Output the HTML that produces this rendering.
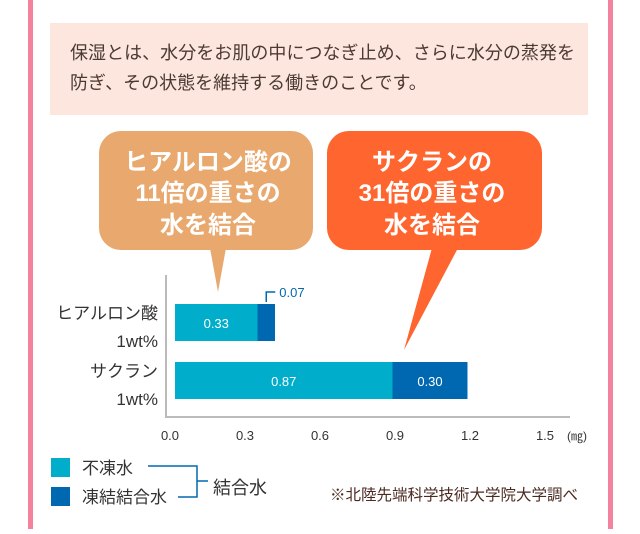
<!DOCTYPE html>
<html><head><meta charset="utf-8">
<style>
body{margin:0;width:640px;height:529px;background:#fff;overflow:hidden;font-family:"Liberation Sans","Noto Sans CJK JP",sans-serif;}
</style></head>
<body>
<svg width="640" height="529" viewBox="0 0 640 529" xmlns="http://www.w3.org/2000/svg" font-family="Liberation Sans, Noto Sans CJK JP, sans-serif">
<rect x="28" y="0" width="5" height="529" fill="#F4829E"/>
<rect x="608" y="0" width="5" height="529" fill="#F4829E"/>
<rect x="50" y="23" width="538" height="92" fill="#FDE6DE"/>
<text x="70" y="59" font-size="18" fill="#4a3a34" textLength="505">保湿とは、水分をお肌の中につなぎ止め、さらに水分の蒸発を</text>
<text x="70" y="89" font-size="18" fill="#4a3a34">防ぎ、その状態を維持する働きのことです。</text>

<g>
<rect x="99" y="131" width="214" height="119" rx="22" fill="#E8A86E"/>
<polygon points="210,248 226,248 218,292" fill="#E8A86E"/>
<g fill="#fff" font-size="24" font-weight="bold" text-anchor="middle">
<text x="208" y="170">ヒアルロン酸の</text><text x="208" y="201">11倍の重さの</text><text x="208" y="233">水を結合</text></g>
</g>
<g>
<rect x="327" y="131" width="215" height="119" rx="22" fill="#FF652E"/>
<polygon points="432,248 458,248 404,350" fill="#FF652E"/>
<g fill="#fff" font-size="24" font-weight="bold" text-anchor="middle">
<text x="432" y="170">サクランの</text><text x="432" y="201">31倍の重さの</text><text x="432" y="233">水を結合</text></g>
</g>

<g id="chart"></g>

<rect x="51" y="458" width="19" height="19" fill="#00AECB"/>
<rect x="51" y="487" width="19" height="19" fill="#0068B0"/>
<text x="82" y="474" font-size="17" fill="#333">不凍水</text>
<text x="82" y="503" font-size="17" fill="#333">凍結結合水</text>
<path d="M148,466 H197 V497 H178 M197,481 H208" stroke="#0068B0" stroke-width="1.5" fill="none"/>
<text x="213" y="494" font-size="18" fill="#333">結合水</text>
<text x="330" y="500" font-size="15.5" fill="#4a2a20">※北陸先端科学技術大学院大学調べ</text>
</svg>
<script>
const categories=[["ヒアルロン酸","1wt%"],["サクラン","1wt%"]];
const unfrozen=[0.33,0.87];
const frozenBound=[0.07,0.30];
const ticks=[0.0,0.3,0.6,0.9,1.2,1.5];
const tickLabels=["0.0","0.3","0.6","0.9","1.2","1.5"];
const NS="http://www.w3.org/2000/svg";
const g=document.getElementById('chart');
const x0=175,scale=250;
const xs=v=>x0+v*scale;
const barY=[304,362],barH=37;
function mk(t,a,txt){const e=document.createElementNS(NS,t);for(const k in a)e.setAttribute(k,a[k]);if(txt!==undefined)e.textContent=txt;g.appendChild(e);return e;}
let ax=mk('path',{d:'M166,275 V417 H570',stroke:'#bbb','stroke-width':2,fill:'none'});


ticks.forEach((t,i)=>{
 const e=mk('text',{x:xs(t)-5,y:440,'font-size':13,fill:'#333','text-anchor':'middle'},tickLabels[i]);
 
 
});
const u=mk('text',{x:577,y:440,'font-size':12,fill:'#333','text-anchor':'middle'},'(㎎)');


categories.forEach((c,i)=>{
 const y=barY[i];
 const l1=mk('text',{x:158,y:y+15,'font-size':17,fill:'#333','text-anchor':'end'},c[0]);
 
 
 const l2=mk('text',{x:158,y:y+43,'font-size':17,fill:'#333','text-anchor':'end'},c[1]);
 
 
 const a=mk('rect',{x:xs(0),y:y,width:xs(unfrozen[i])-xs(0),height:barH,fill:'#00AECB'});
 
 
 const b=mk('rect',{x:xs(unfrozen[i]),y:y,width:xs(unfrozen[i]+frozenBound[i])-xs(unfrozen[i]),height:barH,fill:'#0068B0'});
 
 
 const t1=mk('text',{x:(xs(0)+xs(unfrozen[i]))/2,y:y+24,'font-size':13,fill:'#fff','text-anchor':'middle'},unfrozen[i].toFixed(2));
 
 
 const bw=frozenBound[i]*scale;
 if(bw>30){
  const t2=mk('text',{x:(xs(unfrozen[i])+xs(unfrozen[i]+frozenBound[i]))/2,y:y+24,'font-size':13,fill:'#fff','text-anchor':'middle'},frozenBound[i].toFixed(2));
  
  
 }else{
  const cx=(xs(unfrozen[i])+xs(unfrozen[i]+frozenBound[i]))/2;
  const p=mk('path',{d:`M${cx},${y-2} V${y-12} H${cx+9}`,stroke:'#0068B0','stroke-width':1.5,fill:'none'});
  
  
  const t2=mk('text',{x:cx+13,y:y-7,'font-size':13,fill:'#0068B0'},frozenBound[i].toFixed(2));
  
  
 }
});
</script>
</body></html>
